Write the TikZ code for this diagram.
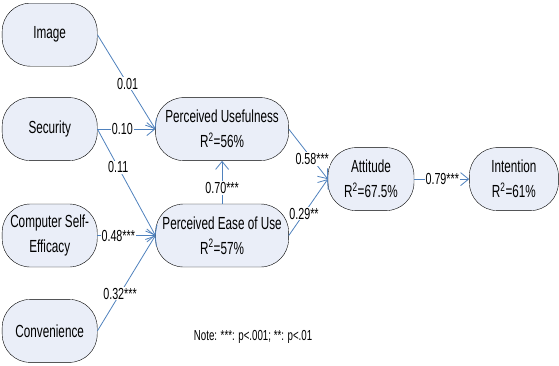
\documentclass[tikz,border=0pt]{standalone}
\usepackage{fontspec}
\setmainfont[FakeStretch=0.67]{Liberation Sans}
\usetikzlibrary{arrows.meta,positioning,calc}
\definecolor{nodefill}{RGB}{234,238,248}
\definecolor{pathblue}{RGB}{79,129,189}
\tikzset{
	factor/.style={draw, rounded corners=28pt, align=center, fill=nodefill, minimum height=63pt, minimum width=95pt, inner sep=2pt, font=\fontsize{17.5}{25}\selectfont},
	construct/.style={factor, minimum width=133pt},
	link/.style={-{Straight Barb[length=8pt,width=13pt]}, draw=pathblue, line width=0.8pt},
	coef/.style={fill=white, inner sep=1pt, font=\fontsize{16}{18}\selectfont}
}

\begin{document}
\begin{tikzpicture}[node distance=32pt and 58pt]
	\node[factor] (image) {Image};
	\useasboundingbox ($(image.north west)+(-2pt,3pt)$) rectangle ++(559pt,-365pt);
	\node[factor, below=31pt of image] (security) {Security};
	\node[factor, below=43pt of security] (cse) {Computer Self-\\Efficacy};
	\node[factor, below=32pt of cse] (convenience) {Convenience};
	\node[construct, right=of security] (pu) {Perceived Usefulness\\R\textsuperscript{2}=56\%};
	\node[construct, right=of cse] (peou) {Perceived Ease of Use\\R\textsuperscript{2}=57\%};
	\coordinate (mid) at ($(pu.east)!0.47!(peou.east)$);
	\node[factor, minimum width=86pt, right=39pt of mid] (attitude) {Attitude\\R\textsuperscript{2}=67.5\%};
	\node[factor, minimum width=89pt, right=55pt of attitude] (intention) {Intention\\R\textsuperscript{2}=61\%};
	\node[right=93pt of convenience, yshift=-6pt, font=\fontsize{14.5}{16}\selectfont] (note) {Note: ***: p<.001; **: p<.01};
	% paths
	\draw[link] (image.east) -- node[coef, pos=0.52] {0.01} (pu.west);
	\draw[link] (security.east) -- node[coef, pos=0.43] {0.10} (pu.west);
	\draw[link] (security.east) -- node[coef, pos=0.36] {0.11} (peou.west);
	\draw[link] (cse.east) -- node[coef, pos=0.36] {0.48***} (peou.west);
	\draw[link] (convenience.east) -- node[coef, pos=0.39] {0.32***} (peou.west);
	\draw[link] (peou.north) -- node[coef, pos=0.37] {0.70***} (pu.south);
	\draw[link] (pu.east) -- node[coef, pos=0.6] {0.58***} (attitude.west);
	\draw[link] (peou.east) -- node[coef, pos=0.39] {0.29**} (attitude.west);
	\draw[link] (attitude.east) -- node[coef, pos=0.51] {0.79***} (intention.west);
\end{tikzpicture}
\end{document}
